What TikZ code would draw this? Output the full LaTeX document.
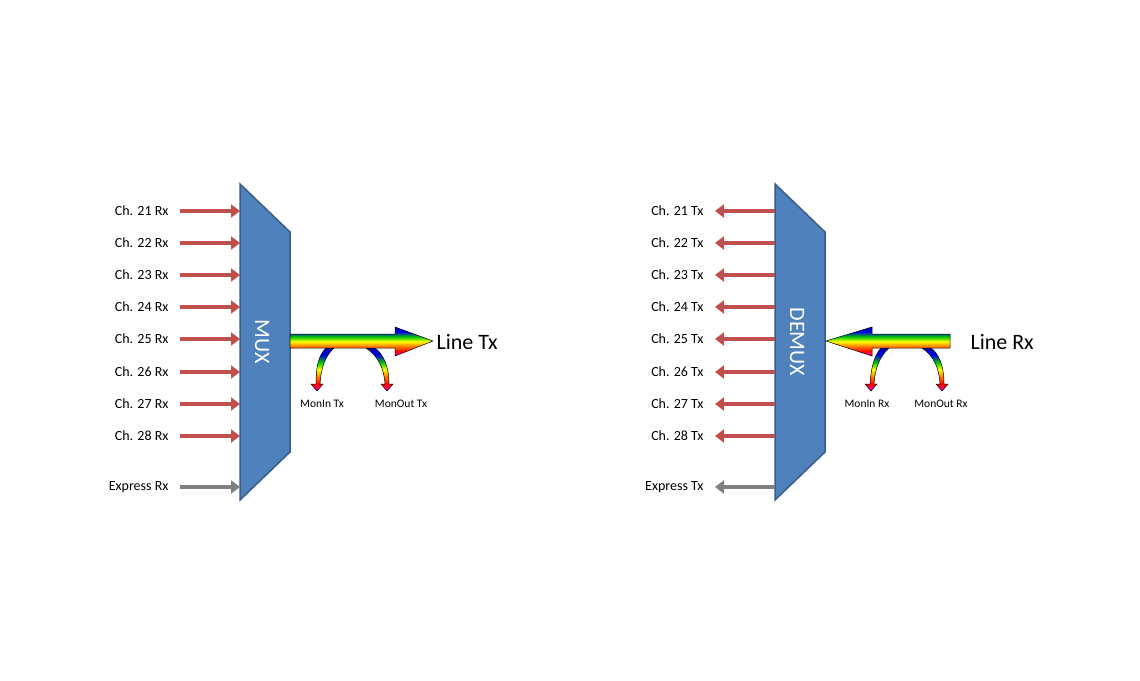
\documentclass[tikz,border=0pt]{standalone}
\usepackage{fontspec}
\setmainfont{Carlito}
\usetikzlibrary{arrows.meta}
\definecolor{chred}{HTML}{C0504D}
\definecolor{muxfill}{HTML}{4F81BD}
\definecolor{muxline}{HTML}{385D8A}
\pgfdeclareverticalshading{rainbow}{100bp}{color(0bp)=(magenta!80!red); color(25bp)=(magenta!80!red); color(33bp)=(red); color(42bp)=(orange); color(50bp)=(yellow); color(58bp)=(green!80!black); color(67bp)=(blue!90!black); color(75bp)=(blue!70!black); color(100bp)=(blue!70!black)}
\begin{document}
\begin{tikzpicture}[x=1pt,y=-1pt,
  chin/.style={draw=chred,line width=4.5pt,-{Triangle[length=9pt,width=13pt]}},
  exin/.style={draw=gray,line width=4.5pt,-{Triangle[length=9pt,width=13pt]}},
  lab/.style={anchor=east,font=\fontsize{14}{16}\selectfont},
  mon/.style={font=\fontsize{11.5}{13}\selectfont},
  big/.style={font=\fontsize{22}{26}\selectfont},
  box/.style={fill=muxfill,draw=muxline,line width=1.5pt},
  rb/.style={shading=rainbow,draw=black,line width=0.5pt}]
\useasboundingbox (0,0) rectangle (1140,680);
% MUX
\draw[box] (240,184) -- (290,232) -- (290,452) -- (240,500) -- cycle;
\node[text=white,rotate=-90,font=\fontsize{22}{26}\selectfont] (mux) at (262,342) {MUX};
\foreach \n/\y in {21/211,22/243,23/275,24/307,25/339,26/372,27/404,28/436}{
  \node[lab] (ri\n) at (172,\y) {Ch. \n\ Rx};
  \coordinate (rs\n) at (180,\y); \coordinate (re\n) at (240,\y);
  \draw[chin] (rs\n) -- (re\n);}
\node[lab] (exr) at (172,487) {Express Rx};
\coordinate (exs) at (180,487); \coordinate (exe) at (240,487);
\draw[exin] (exs) -- (exe);
% mon arcs Tx
\shade[rb] (326,348) .. controls (318,356) and (316,368) .. (316,384) -- (311,384) -- (317,391) -- (323,384) -- (320,384) .. controls (321,368) and (325,356) .. (334,348) -- cycle;
\shade[rb] (366,348) .. controls (378,356) and (384,368) .. (385,384) -- (381,384) -- (387,391) -- (393,384) -- (389,384) .. controls (389,366) and (383,354) .. (375,348) -- cycle;
\shade[rb] (290,334) -- (395,334) -- (395,327) -- (433,341) -- (395,356) -- (395,348) -- (290,348) -- cycle;
\node[big,anchor=west] (ltx) at (433,342) {Line Tx};
\node[mon] (mitx) at (322,404) {MonIn Tx};
\node[mon] (motx) at (401,404) {MonOut Tx};
% DEMUX
\draw[box] (775,184) -- (825,232) -- (825,452) -- (775,500) -- cycle;
\node[text=white,rotate=-90,font=\fontsize{22}{26}\selectfont] (demux) at (797,342) {DEMUX};
\foreach \n/\y in {21/211,22/243,23/275,24/307,25/339,26/372,27/404,28/436}{
  \node[lab] (to\n) at (707,\y) {Ch. \n\ Tx};
  \coordinate (ts\n) at (775,\y); \coordinate (te\n) at (715,\y);
  \draw[chin] (ts\n) -- (te\n);}
\node[lab] (ext) at (707,487) {Express Tx};
\coordinate (ets) at (775,487); \coordinate (ete) at (715,487);
\draw[exin] (ets) -- (ete);
\shade[rb] (881,348) .. controls (874,356) and (871,368) .. (870,384) -- (865,384) -- (871,391) -- (877,384) -- (874,384) .. controls (875,368) and (880,356) .. (889,348) -- cycle;
\shade[rb] (922,348) .. controls (934,356) and (939,368) .. (940,384) -- (936,384) -- (942,391) -- (948,384) -- (944,384) .. controls (944,366) and (939,354) .. (931,348) -- cycle;
\shade[rb] (950,334) -- (872,334) -- (872,327) -- (826,341) -- (872,356) -- (872,348) -- (950,348) -- cycle;
\node[big,anchor=west] (lrx) at (967,342) {Line Rx};
\node[mon] (mirx) at (867,404) {MonIn Rx};
\node[mon] (morx) at (941,404) {MonOut Rx};
\end{tikzpicture}
\end{document}
